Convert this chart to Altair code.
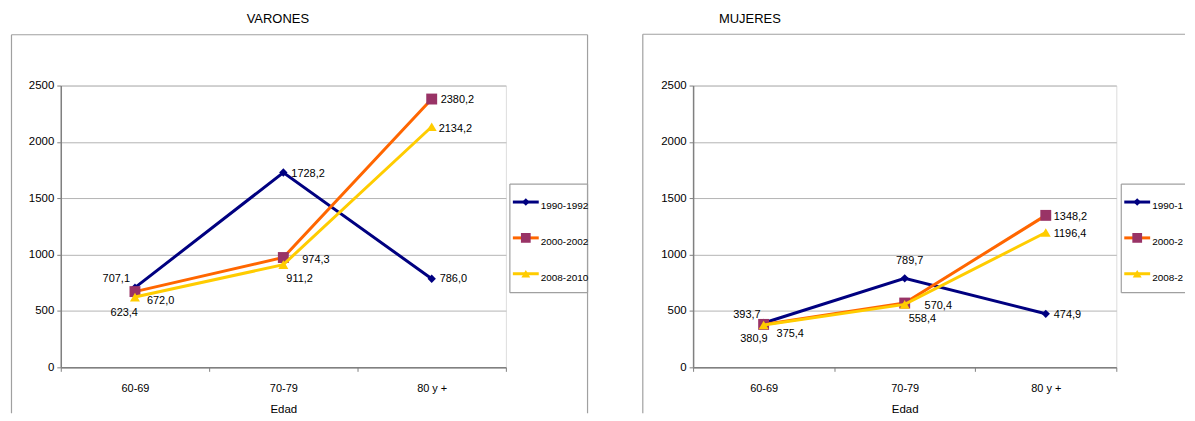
import altair as alt
import pandas as pd

# ---------------- data ----------------
categories = ["60-69", "70-79", "80 y +"]
series = ["1990-1992", "2000-2002", "2008-2010"]

varones_1990 = [707.1, 1728.2, 786.0]
varones_2000 = [672.0, 974.3, 2380.2]
varones_2008 = [623.4, 911.2, 2134.2]

mujeres_1990 = [393.7, 789.7, 474.9]
mujeres_2000 = [380.9, 570.4, 1348.2]
mujeres_2008 = [375.4, 558.4, 1196.4]

y_ticks = [0, 500, 1000, 1500, 2000, 2500]

# ---------------- styles ----------------
FONT = "Liberation Sans, Arial, sans-serif"
line_colors = {"1990-1992": "#000080", "2000-2002": "#FF6600", "2008-2010": "#FFCC00"}
marker_colors = {"1990-1992": "#000080", "2000-2002": "#993366", "2008-2010": "#FFCC00"}
marker_shapes = {"1990-1992": "diamond", "2000-2002": "square", "2008-2010": "triangle-up"}
marker_sizes = {"1990-1992": 70, "2000-2002": 120, "2008-2010": 100}
GRID = "#b3b3b3"
FRAME = "#a0a0a0"

# label offsets (dx, dy, align) per series / category
varones_lbl = {
    "1990-1992": [(-5, -9, "right"), (8, 1, "left"), (8, 0, "left")],
    "2000-2002": [(12, 9, "left"), (19, 3, "left"), (9, 1, "left")],
    "2008-2010": [(3, 16, "right"), (3, 14, "left"), (7, 2, "left")],
}
mujeres_lbl = {
    "1990-1992": [(-3, -8, "right"), (5, -17, "center"), (8, 1, "left")],
    "2000-2002": [(4, 15, "right"), (20, 3, "left"), (8, 2, "left")],
    "2008-2010": [(13, 9, "left"), (4, 15, "left"), (8, 2, "left")],
}


def fmt(v):
    return f"{v:.1f}".replace(".", ",")


def panel(title, vals, lbl, W, H, title_x, legend_x, frame_left, frame_right,
          frame_top, clip_right=None):
    rows = []
    for s, arr in zip(series, vals):
        for c, v in zip(categories, arr):
            rows.append({"serie": s, "edad": c, "valor": v, "txt": fmt(v)})
    df = pd.DataFrame(rows)

    x = alt.X(
        "edad:N",
        sort=categories,
        scale=alt.Scale(type="band", paddingInner=0, paddingOuter=0),
        axis=alt.Axis(
            title="Edad", titleFont=FONT, titleFontSize=11.5, titleFontWeight="normal",
            titleColor="#000", titlePadding=10, labelFont=FONT, labelFontSize=11,
            labelColor="#000", labelPadding=11, tickBand="extent", tickSize=4,
            tickColor="#808080", domainColor="#808080", domainWidth=1.5, labelAngle=0,
            grid=False,
        ),
    )
    y = alt.Y(
        "valor:Q",
        scale=alt.Scale(domain=[0, 2500], nice=False),
        axis=alt.Axis(
            title=None, values=y_ticks, format="d", labelFont=FONT, labelFontSize=11.5,
            labelColor="#000", labelPadding=3, tickSize=4, tickColor="#808080",
            domainColor="#808080", domainWidth=1.5, gridColor=GRID, gridWidth=1,
        ),
    )

    base = alt.Chart(df)
    layers = []
    for s in series:
        sub = base.transform_filter(alt.datum.serie == s)
        layers.append(
            sub.mark_line(color=line_colors[s], strokeWidth=3).encode(x=x, y=y)
        )
        layers.append(
            sub.mark_point(
                shape=marker_shapes[s], size=marker_sizes[s], filled=True,
                color=marker_colors[s], opacity=1,
            ).encode(x=x, y=y)
        )
    for s in series:
        for i, c in enumerate(categories):
            dx, dy, al = lbl[s][i]
            layers.append(
                base.transform_filter((alt.datum.serie == s) & (alt.datum.edad == c))
                .mark_text(font=FONT, fontSize=11, color="#000", dx=dx, dy=dy,
                           align=al, baseline="middle")
                .encode(x=x, y=y, text="txt:N")
            )

    one = alt.Chart(pd.DataFrame({"k": [0]}))
    right_edge = frame_right if clip_right is None else clip_right
    bottom = 329
    # anchor line defining top bound (white)
    layers.append(one.mark_rule(color="#ffffff", strokeWidth=1).encode(
        x=alt.value(frame_left), x2=alt.value(frame_left + 5), y=alt.value(-75.5)))
    # outer frame (left, top, right)
    layers.append(one.mark_rule(color=FRAME, strokeWidth=1.2).encode(
        x=alt.value(frame_left), y=alt.value(frame_top), y2=alt.value(bottom)))
    layers.append(one.mark_rule(color=FRAME, strokeWidth=1.2).encode(
        x=alt.value(frame_left), x2=alt.value(right_edge), y=alt.value(frame_top)))
    if clip_right is None:
        layers.append(one.mark_rule(color=FRAME, strokeWidth=1.2).encode(
            x=alt.value(frame_right), y=alt.value(frame_top), y2=alt.value(bottom)))
    # title
    layers.append(one.mark_text(font=FONT, fontSize=13, color="#000", baseline="middle",
                                align="center").encode(
        x=alt.value(title_x), y=alt.value(-67), text=alt.value(title)))

    # legend
    lx0, ly0, ly1 = legend_x, 99, 208
    lx1 = lx0 + 78
    lx1v = lx1 if clip_right is None else min(lx1, clip_right)
    for yy in (ly0, ly1):
        layers.append(one.mark_rule(color=FRAME, strokeWidth=1.2).encode(
            x=alt.value(lx0), x2=alt.value(lx1v), y=alt.value(yy)))
    layers.append(one.mark_rule(color=FRAME, strokeWidth=1.2).encode(
        x=alt.value(lx0), y=alt.value(ly0), y2=alt.value(ly1)))
    if clip_right is None:
        layers.append(one.mark_rule(color=FRAME, strokeWidth=1.2).encode(
            x=alt.value(lx1), y=alt.value(ly0), y2=alt.value(ly1)))
    lim = 200 if clip_right is None else clip_right - (lx0 + 31)
    for k, s in enumerate(series):
        yy = 117 + 36 * k
        layers.append(one.mark_rule(color=line_colors[s], strokeWidth=3).encode(
            x=alt.value(lx0 + 3), x2=alt.value(lx0 + 29), y=alt.value(yy)))
        layers.append(one.mark_point(shape=marker_shapes[s], size=marker_sizes[s] * 0.8,
                                     filled=True, color=marker_colors[s], opacity=1).encode(
            x=alt.value(lx0 + 16), y=alt.value(yy)))
        layers.append(one.mark_text(font=FONT, fontSize=10, color="#000", align="left",
                                    baseline="middle", limit=lim, ellipsis="\u200b").encode(
            x=alt.value(lx0 + 31), y=alt.value(yy + 4), text=alt.value(s)))

    return alt.layer(*layers).properties(width=W, height=H)


left = panel("VARONES", [varones_1990, varones_2000, varones_2008], varones_lbl,
             447, 283, 218, 451, -49.5, 529, -51)
right = panel("MUJERES", [mujeres_1990, mujeres_2000, mujeres_2008], mujeres_lbl,
              425, 283, 57, 430, -50.5, 528, -51.5, clip_right=494)

chart = alt.hconcat(left, right, spacing=52).properties(
    padding={"left": 2, "top": 0, "right": 0, "bottom": 0}
).configure_view(stroke="#999999", strokeWidth=1.5).configure(background="#ffffff")

chart.save("out.html", embed_options={"renderer": "svg", "actions": False})
